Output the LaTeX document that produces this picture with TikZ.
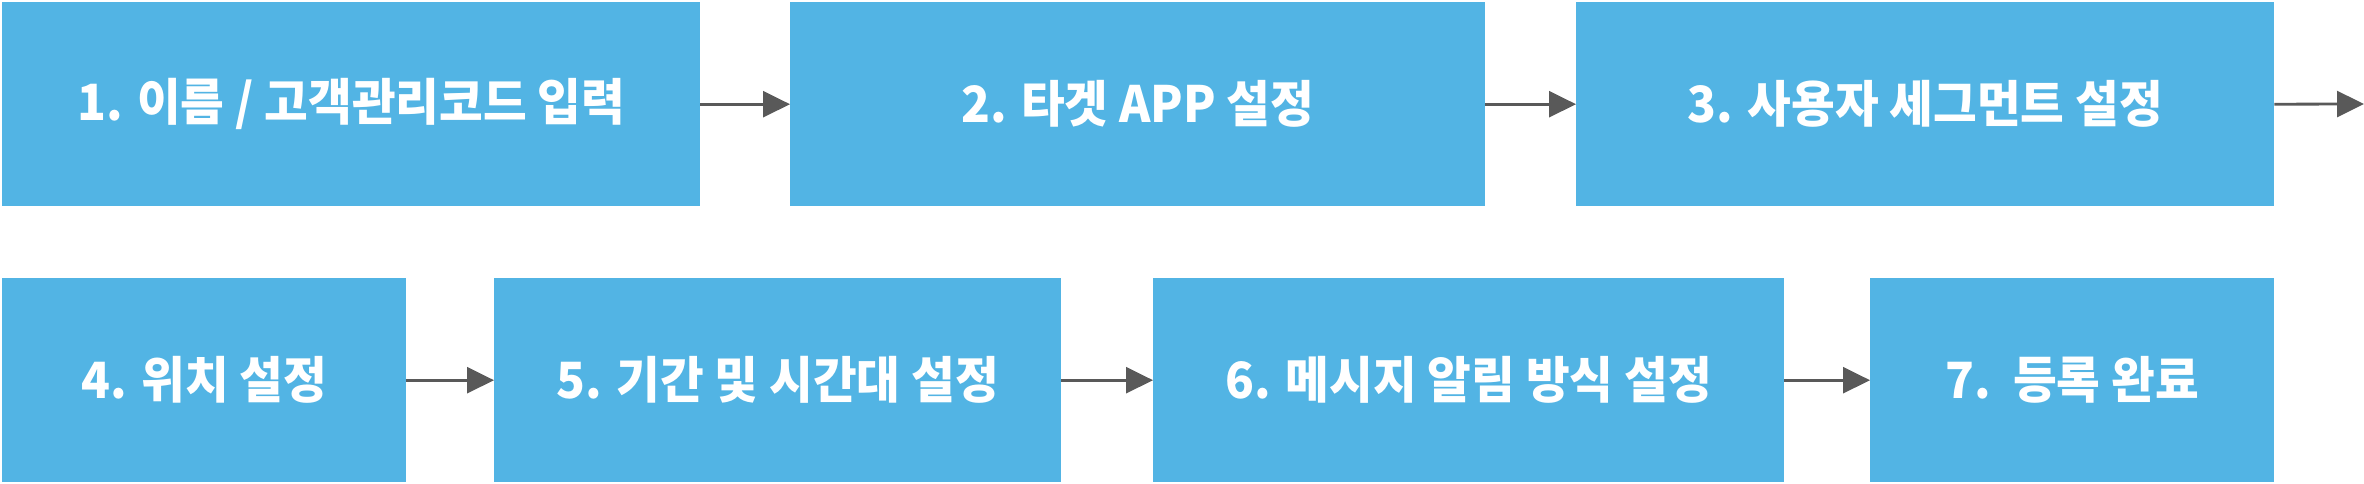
\documentclass[tikz,border=0pt]{standalone}
\usepackage{fontspec}
\setmainfont{Noto Sans CJK KR}
\usetikzlibrary{arrows.meta}
\definecolor{boxblue}{HTML}{52B4E4}
\definecolor{arrowgray}{HTML}{595959}
\newcommand\steplabel[1]{\scalebox{0.95}[1]{#1}}
\tikzset{
  stepbox/.style={fill=boxblue, draw=none, inner sep=0pt, text=white,
    font=\fontsize{50}{56}\selectfont\bfseries, anchor=north west},
  flow/.style={draw=arrowgray, line width=2.8pt,
    -{Triangle[length=27pt,width=26pt]}}
}
\begin{document}
\begin{tikzpicture}[x=1pt,y=-1pt]
\useasboundingbox (0,0) rectangle (2364,484);
\node[stepbox, minimum width=698pt, minimum height=204pt] (b1) at (2,2) {\steplabel{1. 이름 / 고객관리코드 입력}};
\node[stepbox, minimum width=695pt, minimum height=204pt] (b2) at (790,2) {\steplabel{2. 타겟 APP 설정}};
\node[stepbox, minimum width=698pt, minimum height=204pt] (b3) at (1576,2) {\steplabel{3. 사용자 세그먼트 설정}};
\node[stepbox, minimum width=404pt, minimum height=204pt] (b4) at (2,278) {\steplabel{4. 위치 설정}};
\node[stepbox, minimum width=567pt, minimum height=204pt] (b5) at (494,278) {\steplabel{5. 기간 및 시간대 설정}};
\node[stepbox, minimum width=631pt, minimum height=204pt] (b6) at (1153,278) {\steplabel{6. 메시지 알림 방식 설정}};
\node[stepbox, minimum width=404pt, minimum height=204pt] (b7) at (1870,278) {\steplabel{7.\ \ 등록 완료}};
\coordinate (end) at (2364,104);
\draw[flow] (b1.east) -- (b2.west);
\draw[flow] (b2.east) -- (b3.west);
\draw[flow] (b3.east) -- (end);
\draw[flow] (b4.east) -- (b5.west);
\draw[flow] (b5.east) -- (b6.west);
\draw[flow] (b6.east) -- (b7.west);
\end{tikzpicture}
\end{document}
